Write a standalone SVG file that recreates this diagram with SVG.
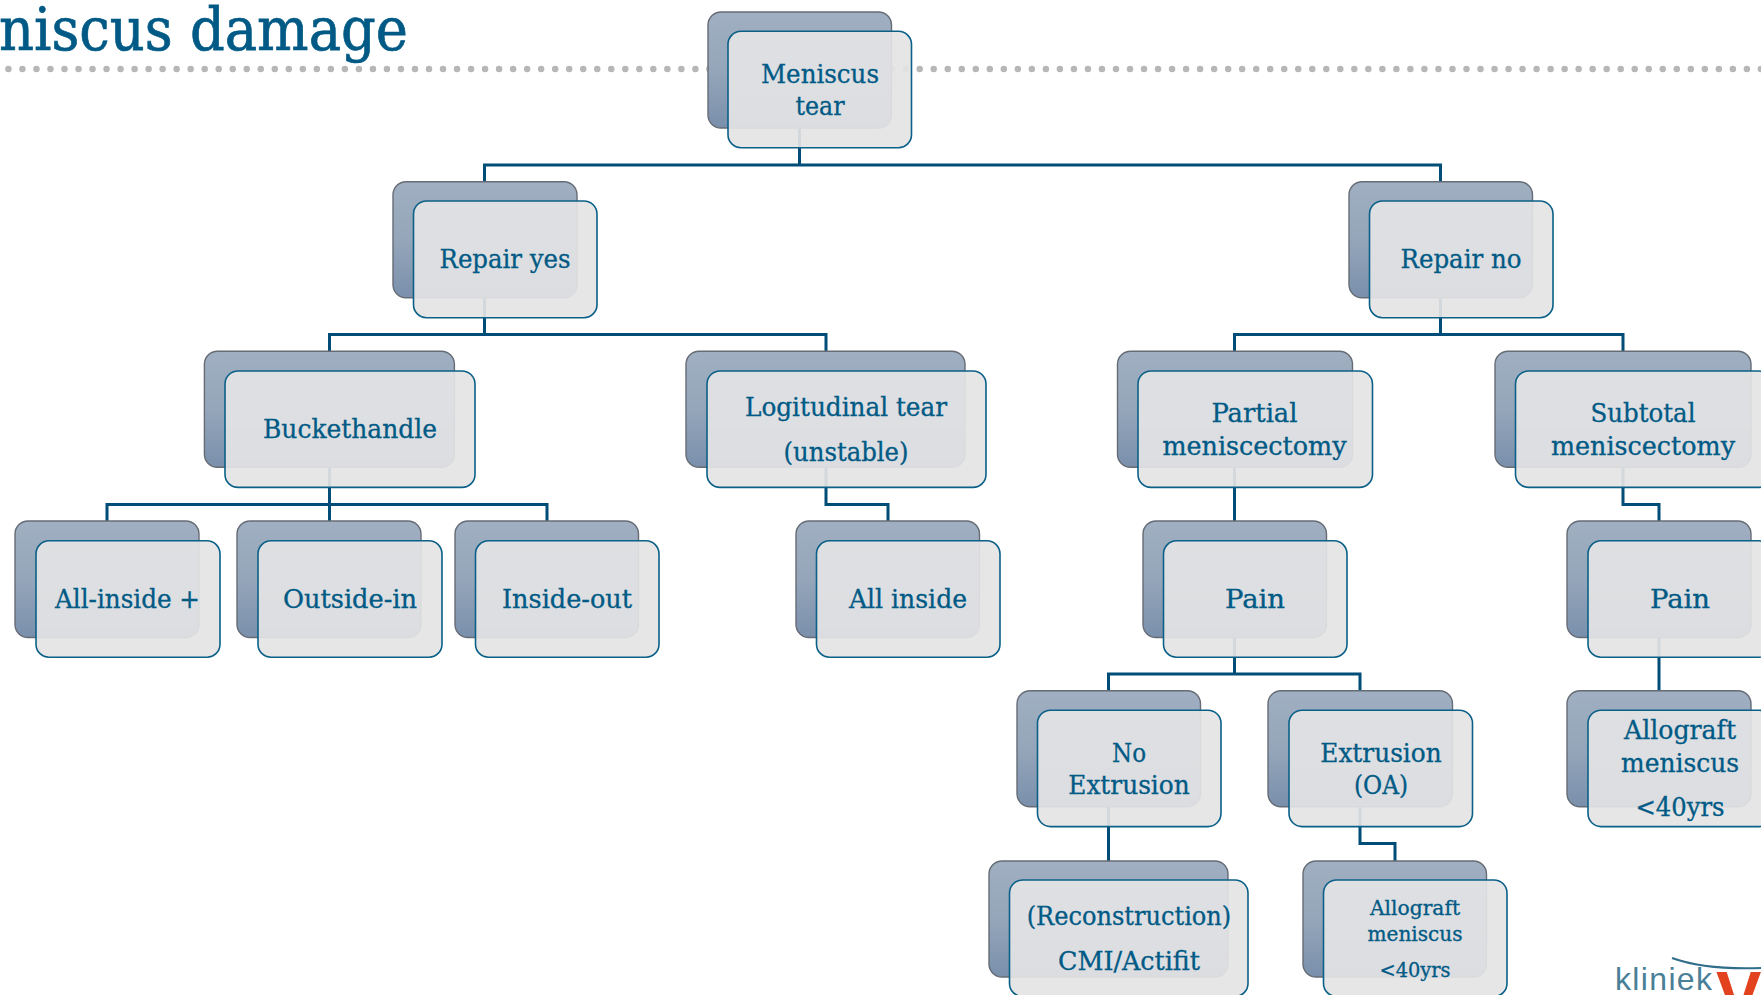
<svg xmlns="http://www.w3.org/2000/svg" width="1761" height="995" viewBox="0 0 1761 995">
<defs>
<linearGradient id="bk" x1="0" y1="0" x2="0" y2="1"><stop offset="0" stop-color="#a0afc1"/><stop offset="0.5" stop-color="#95a6ba"/><stop offset="1" stop-color="#798fab"/></linearGradient>
</defs>
<style>
.b{fill:url(#bk);stroke:#666c75;stroke-width:1.4}
.f{fill:#e4e4e5;fill-opacity:.92;stroke:#0b6088;stroke-width:1.6}
.t{font-family:"DejaVu Serif Condensed","DejaVu Serif",serif;font-size:26px;fill:#005a85;stroke:#005a85;stroke-width:.3;text-anchor:middle}
.s{font-size:21px}
.c{fill:none;stroke:#004d78;stroke-width:3}
</style>
<rect width="1761" height="995" fill="#fff"/>
<text id="title" x="-1" y="50" style="font-family:'DejaVu Serif Condensed','DejaVu Serif',serif;font-size:60px;fill:#005a85;stroke:#005a85;stroke-width:.7" textLength="409" lengthAdjust="spacingAndGlyphs">niscus damage</text>
<line id="rule" x1="8.4" y1="69" x2="1761" y2="69" stroke="#b7b7b7" stroke-width="6.5" stroke-linecap="round" stroke-dasharray="0 14.02"/>
<g id="connectors">
<path class="c" d="M799.5 128V165M484.5 182V165H1440.5V182"/>
<path class="c" d="M484.5 298V334.5M329.5 351.5V334.5H826V351.5"/>
<path class="c" d="M1440.5 298V334.5M1234.5 351.5V334.5H1623V351.5"/>
<path class="c" d="M329.5 467V504.5M107 521V504.5H547V521M329.5 504.5V521"/>
<path class="c" d="M826 467V504.5H888V521"/>
<path class="c" d="M1234.5 467V521"/>
<path class="c" d="M1623 467V504.5H1659V521"/>
<path class="c" d="M1234.5 637V674M1108.5 690.7V674H1360V690.7"/>
<path class="c" d="M1659 637V690.7"/>
<path class="c" d="M1108.5 806V861"/>
<path class="c" d="M1360 806V843.5H1395V861"/>
</g>
<g id="n-meniscus"><rect class="b" x="708" y="12" width="183.5" height="116" rx="13"/><rect class="f" x="728" y="31.3" width="183.5" height="116.4" rx="13"/><text class="t" x="820" y="83" textLength="118" lengthAdjust="spacingAndGlyphs">Meniscus</text><text class="t" x="820" y="115" textLength="49" lengthAdjust="spacingAndGlyphs">tear</text></g>
<g id="n-repair-yes"><rect class="b" x="393" y="181.7" width="184" height="116" rx="13"/><rect class="f" x="413.5" y="201" width="183.5" height="116.7" rx="13"/><text class="t" x="505" y="267.7" textLength="131" lengthAdjust="spacingAndGlyphs">Repair yes</text></g>
<g id="n-repair-no"><rect class="b" x="1349" y="181.7" width="183.5" height="116" rx="13"/><rect class="f" x="1369.5" y="201" width="183.5" height="116.7" rx="13"/><text class="t" x="1461" y="267.7" textLength="121" lengthAdjust="spacingAndGlyphs">Repair no</text></g>
<g id="n-bucket"><rect class="b" x="204.4" y="351.3" width="250" height="116" rx="13"/><rect class="f" x="225" y="371" width="250" height="116.4" rx="13"/><text class="t" x="350" y="438.2" textLength="174" lengthAdjust="spacingAndGlyphs">Buckethandle</text></g>
<g id="n-longitudinal"><rect class="b" x="686" y="351.3" width="279" height="116" rx="13"/><rect class="f" x="707" y="371" width="279" height="116.4" rx="13"/><text class="t" x="846" y="416" textLength="202" lengthAdjust="spacingAndGlyphs">Logitudinal tear</text><text class="t" x="846" y="461" textLength="125" lengthAdjust="spacingAndGlyphs">(unstable)</text></g>
<g id="n-partial"><rect class="b" x="1117.5" y="351.3" width="235" height="116" rx="13"/><rect class="f" x="1138" y="371" width="234.5" height="116.4" rx="13"/><text class="t" x="1254.5" y="422" textLength="86" lengthAdjust="spacingAndGlyphs">Partial</text><text class="t" x="1254.5" y="455" textLength="184" lengthAdjust="spacingAndGlyphs">meniscectomy</text></g>
<g id="n-subtotal"><rect class="b" x="1495" y="351.3" width="256" height="116" rx="13"/><rect class="f" x="1515.5" y="371" width="256" height="116.4" rx="13"/><text class="t" x="1643" y="422" textLength="105" lengthAdjust="spacingAndGlyphs">Subtotal</text><text class="t" x="1643" y="455" textLength="184" lengthAdjust="spacingAndGlyphs">meniscectomy</text></g>
<g id="n-allinside-plus"><rect class="b" x="15" y="521" width="184" height="116.5" rx="13"/><rect class="f" x="36" y="540.8" width="184" height="116.4" rx="13"/><text class="t" x="127.5" y="607.7" textLength="145" lengthAdjust="spacingAndGlyphs">All-inside +</text></g>
<g id="n-outside-in"><rect class="b" x="237" y="521" width="184" height="116.5" rx="13"/><rect class="f" x="258" y="540.8" width="184" height="116.4" rx="13"/><text class="t" x="350" y="607.7" textLength="134" lengthAdjust="spacingAndGlyphs">Outside-in</text></g>
<g id="n-inside-out"><rect class="b" x="455" y="521" width="183.5" height="116.5" rx="13"/><rect class="f" x="475.5" y="540.8" width="183.5" height="116.4" rx="13"/><text class="t" x="567" y="607.7" textLength="130" lengthAdjust="spacingAndGlyphs">Inside-out</text></g>
<g id="n-allinside"><rect class="b" x="796" y="521" width="183.5" height="116.5" rx="13"/><rect class="f" x="816.5" y="540.8" width="183.5" height="116.4" rx="13"/><text class="t" x="908" y="607.7" textLength="118" lengthAdjust="spacingAndGlyphs">All inside</text></g>
<g id="n-pain1"><rect class="b" x="1143" y="521" width="183.5" height="116.5" rx="13"/><rect class="f" x="1163.5" y="540.8" width="183.5" height="116.4" rx="13"/><text class="t" x="1255" y="607.7" textLength="60" lengthAdjust="spacingAndGlyphs">Pain</text></g>
<g id="n-pain2"><rect class="b" x="1567" y="521" width="184" height="116.5" rx="13"/><rect class="f" x="1588" y="540.8" width="184" height="116.4" rx="13"/><text class="t" x="1680" y="607.7" textLength="60" lengthAdjust="spacingAndGlyphs">Pain</text></g>
<g id="n-noext"><rect class="b" x="1017" y="690.7" width="183.5" height="116" rx="13"/><rect class="f" x="1037.5" y="710.2" width="183.5" height="116.4" rx="13"/><text class="t" x="1129" y="761.7" textLength="34" lengthAdjust="spacingAndGlyphs">No</text><text class="t" x="1129" y="793.7" textLength="121.4" lengthAdjust="spacingAndGlyphs">Extrusion</text></g>
<g id="n-ext"><rect class="b" x="1268" y="690.7" width="184.5" height="116" rx="13"/><rect class="f" x="1289" y="710.2" width="183.5" height="116.4" rx="13"/><text class="t" x="1381" y="761.7" textLength="121.4" lengthAdjust="spacingAndGlyphs">Extrusion</text><text class="t" x="1381" y="793.7" textLength="54" lengthAdjust="spacingAndGlyphs">(OA)</text></g>
<g id="n-allograft1"><rect class="b" x="1567" y="690.7" width="184" height="116" rx="13"/><rect class="f" x="1588" y="710.2" width="184" height="116.4" rx="13"/><text class="t" x="1680" y="739" textLength="112" lengthAdjust="spacingAndGlyphs">Allograft</text><text class="t" x="1680" y="772" textLength="118" lengthAdjust="spacingAndGlyphs">meniscus</text><text class="t" x="1680" y="816" textLength="89" lengthAdjust="spacingAndGlyphs">&lt;40yrs</text></g>
<g id="n-recon"><rect class="b" x="989" y="861" width="239" height="116" rx="13"/><rect class="f" x="1009.5" y="880" width="238.5" height="116.4" rx="13"/><text class="t" x="1129" y="925" textLength="204.6" lengthAdjust="spacingAndGlyphs">(Reconstruction)</text><text class="t" x="1129" y="970" textLength="142" lengthAdjust="spacingAndGlyphs">CMI/Actifit</text></g>
<g id="n-allograft2"><rect class="b" x="1303" y="861" width="183.5" height="116" rx="13"/><rect class="f" x="1323.5" y="880" width="183.5" height="116.4" rx="13"/><text class="t s" x="1415" y="915" textLength="90" lengthAdjust="spacingAndGlyphs">Allograft</text><text class="t s" x="1415" y="940.7" textLength="95" lengthAdjust="spacingAndGlyphs">meniscus</text><text class="t s" x="1415" y="976.7" textLength="71" lengthAdjust="spacingAndGlyphs">&lt;40yrs</text></g>
<g id="logo"><text x="1615" y="990" textLength="97" lengthAdjust="spacing" style="font-family:'Liberation Sans',sans-serif;font-size:32px;fill:#4a7f98">kliniek</text><text x="1716" y="1019" style="font-family:'Liberation Sans',sans-serif;font-size:68px;font-weight:bold;fill:#e2431e">V</text><path d="M1672 958Q1705 970 1761 968" fill="none" stroke="#2f6d8a" stroke-width="2"/></g>
</svg>
